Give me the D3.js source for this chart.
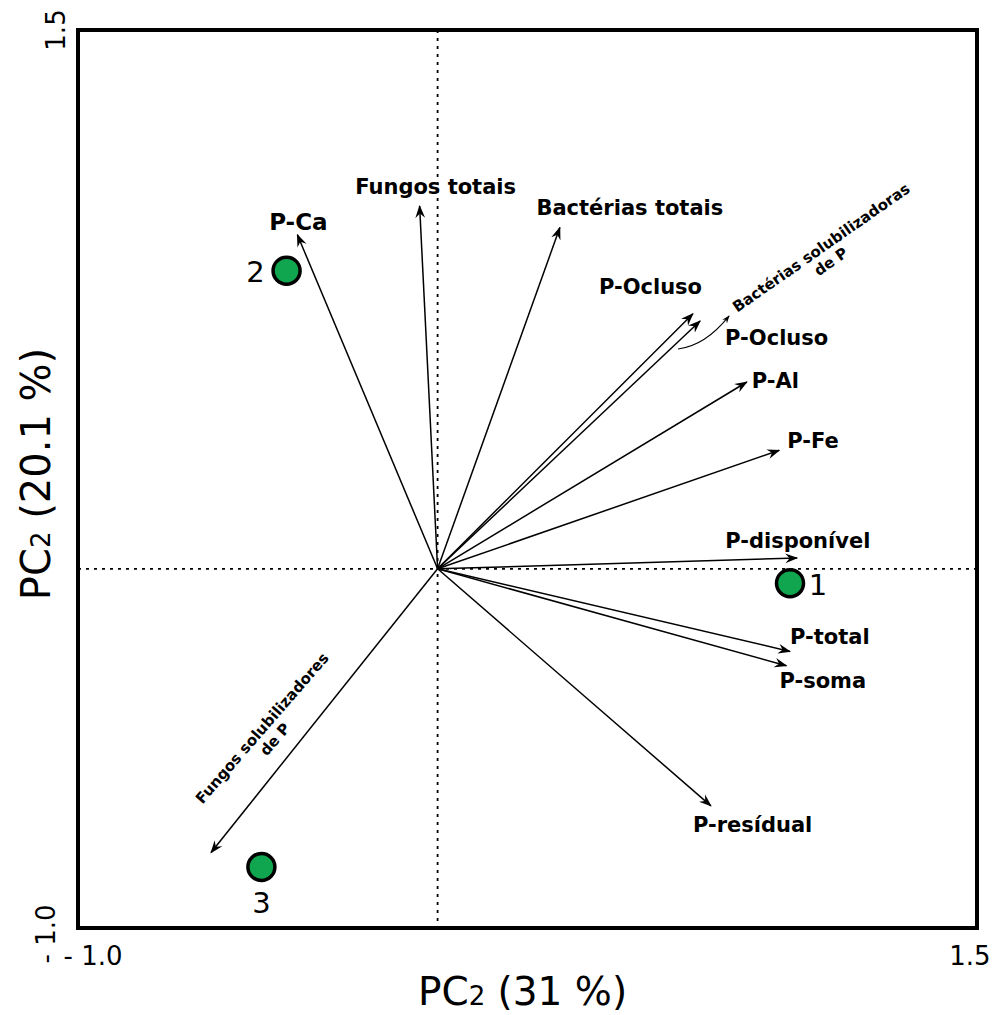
<!DOCTYPE html>
<html>
<head>
<meta charset="utf-8">
<script src="https://cdn.jsdelivr.net/npm/d3@7"></script>
<style>
  html, body { margin: 0; padding: 0; background: #fff; }
  svg { display: block; font-family: "DejaVu Sans", sans-serif; }
</style>
</head>
<body>
<div id="chart"></div>
<script>
// loadings (arrows)
const variables = ["P-Ca", "Fungos totais", "Bactérias totais", "P-Ocluso", "P-Ocluso",
  "P-Al", "P-Fe", "P-disponível", "P-total", "P-soma", "P-resídual", "Fungos solubilizadores"];
const loadX = [-0.39, -0.05, 0.34, 0.71, 0.73, 0.86, 0.95, 1.00, 0.98, 0.97, 0.76, -0.63];
const loadY = [0.93, 1.01, 0.95, 0.71, 0.69, 0.52, 0.33, 0.03, -0.23, -0.27, -0.66, -0.79];

// sample scores
const sites = ["1", "2", "3"];
const scoreX = [0.98, -0.42, -0.49];
const scoreY = [-0.04, 0.83, -0.83];

const xDomain = [-1.0, 1.5];
const yDomain = [-1.0, 1.5];

const width = 997, height = 1015;
const margin = { left: 78, right: 20, top: 30, bottom: 87 };

const svg = d3.select("#chart").append("svg")
  .attr("width", width).attr("height", height);

const x = d3.scaleLinear().domain(xDomain).range([margin.left, width - margin.right]);
const y = d3.scaleLinear().domain(yDomain).range([height - margin.bottom, margin.top]);

const defs = svg.append("defs");
function addMarker(id, w, h) {
  defs.append("marker")
    .attr("id", id)
    .attr("viewBox", "0 0 12 10")
    .attr("refX", 11).attr("refY", 5)
    .attr("markerWidth", w).attr("markerHeight", h)
    .attr("markerUnits", "userSpaceOnUse")
    .attr("orient", "auto")
    .append("path")
    .attr("d", "M0,0.5 L12,5 L0,9.5 L4,5 Z")
    .attr("fill", "#000");
}
addMarker("arrow", 13, 11);
addMarker("arrowSmall", 8, 7);

// zero lines
svg.append("line")
  .attr("x1", x(0)).attr("x2", x(0))
  .attr("y1", y(yDomain[1])).attr("y2", y(yDomain[0]))
  .attr("stroke", "#000").attr("stroke-width", 1.8)
  .attr("stroke-dasharray", "3,5");
svg.append("line")
  .attr("x1", x(xDomain[0])).attr("x2", x(xDomain[1]))
  .attr("y1", y(0)).attr("y2", y(0))
  .attr("stroke", "#000").attr("stroke-width", 1.8)
  .attr("stroke-dasharray", "3,5");

// arrows
const loads = variables.map((v, i) => ({ name: v, x: loadX[i], y: loadY[i] }));
svg.append("g").selectAll("line")
  .data(loads)
  .join("line")
  .attr("x1", x(0)).attr("y1", y(0))
  .attr("x2", d => x(d.x)).attr("y2", d => y(d.y))
  .attr("stroke", "#000").attr("stroke-width", 1.5)
  .attr("marker-end", "url(#arrow)");

// label offsets (px) from arrow tips
const labelLayout = {
  0: { dx: 1, dy: -5, anchor: "middle", size: 23 },
  1: { dx: 16, dy: -12, anchor: "middle" },
  2: { dx: 70, dy: -13, anchor: "middle" },
  3: { dx: -94, dy: -20, anchor: "start" },
  4: { dx: 25, dy: 24, anchor: "start" },
  5: { dx: 5, dy: 6, anchor: "start" },
  6: { dx: 8, dy: -2, anchor: "start" },
  7: { dx: -72, dy: -10, anchor: "start" },
  8: { dx: 0, dy: -7, anchor: "start" },
  9: { dx: -7, dy: 22, anchor: "start" },
  10: { dx: -18, dy: 26, anchor: "start" }
};

const labels = svg.append("g").attr("font-weight", "bold").attr("fill", "#000");
loads.forEach((d, i) => {
  const l = labelLayout[i];
  if (!l) return;
  labels.append("text")
    .attr("x", x(d.x) + l.dx)
    .attr("y", y(d.y) + l.dy)
    .attr("text-anchor", l.anchor)
    .attr("font-size", l.size || 21)
    .text(d.name);
});

// rotated label for Fungos solubilizadores (two lines)
const fs = loads[11];
const fsG = labels.append("g")
  .attr("transform", `translate(${x(fs.x) + 55},${y(fs.y) - 121}) rotate(-49)`)
  .attr("font-size", 15).attr("text-anchor", "middle");
fsG.append("text").attr("x", 0).attr("y", 0).text("Fungos solubilizadores");
fsG.append("text").attr("x", 0).attr("y", 17).text("de P");

// rotated label for Bactérias solubilizadoras with curved leader
const po = loads[4];
const bx = x(po.x), by = y(po.y);
svg.append("path")
  .attr("d", `M${bx - 22},${by + 28} Q${bx + 5},${by + 25} ${bx + 29},${by - 5}`)
  .attr("fill", "none").attr("stroke", "#000").attr("stroke-width", 1.1)
  .attr("marker-end", "url(#arrowSmall)");
const bsG = labels.append("g")
  .attr("transform", `translate(${bx + 124},${by - 69}) rotate(-35)`)
  .attr("font-size", 15).attr("text-anchor", "middle");
bsG.append("text").attr("x", 0).attr("y", 0).text("Bactérias solubilizadoras");
bsG.append("text").attr("x", 0).attr("y", 17).text("de P");

// sample points
const scores = sites.map((s, i) => ({ name: s, x: scoreX[i], y: scoreY[i] }));
svg.append("g").selectAll("circle")
  .data(scores)
  .join("circle")
  .attr("cx", d => x(d.x)).attr("cy", d => y(d.y))
  .attr("r", 13.5)
  .attr("fill", "#10a650")
  .attr("stroke", "#000").attr("stroke-width", 3.5);

const siteOffset = {
  "1": { dx: 28, dy: 12 },
  "2": { dx: -31, dy: 11 },
  "3": { dx: 0, dy: 46 }
};
svg.append("g").selectAll("text")
  .data(scores)
  .join("text")
  .attr("x", d => x(d.x) + siteOffset[d.name].dx)
  .attr("y", d => y(d.y) + siteOffset[d.name].dy)
  .attr("text-anchor", "middle")
  .attr("font-size", 29)
  .text(d => d.name);

// frame
svg.append("rect")
  .attr("x", x(xDomain[0])).attr("y", y(yDomain[1]))
  .attr("width", x(xDomain[1]) - x(xDomain[0]))
  .attr("height", y(yDomain[0]) - y(yDomain[1]))
  .attr("fill", "none").attr("stroke", "#000").attr("stroke-width", 4);

// tick labels
const tickFont = 26;
svg.append("text")
  .attr("transform", `translate(${x(xDomain[0]) - 13},${y(yDomain[1])}) rotate(-90)`)
  .attr("text-anchor", "middle").attr("font-size", tickFont)
  .text("1.5");
svg.append("text")
  .attr("transform", `translate(${x(xDomain[0]) - 23},${y(yDomain[0]) + 6}) rotate(-90)`)
  .attr("text-anchor", "middle").attr("font-size", tickFont)
  .text("- 1.0");
svg.append("text")
  .attr("x", x(xDomain[0]) + 15).attr("y", y(yDomain[0]) + 37)
  .attr("text-anchor", "middle").attr("font-size", tickFont)
  .text("- 1.0");
svg.append("text")
  .attr("x", x(xDomain[1]) - 7).attr("y", y(yDomain[0]) + 37)
  .attr("text-anchor", "middle").attr("font-size", tickFont)
  .text("1.5");

// axis titles
const xt = svg.append("text")
  .attr("x", x(0.25) - 5).attr("y", height - 10)
  .attr("text-anchor", "middle").attr("font-size", 39);
xt.append("tspan").text("PC");
xt.append("tspan").attr("font-size", 26).text("2");
xt.append("tspan").text(" (31 %)");

const yt = svg.append("text")
  .attr("transform", `translate(50,${y(0.25) - 5}) rotate(-90)`)
  .attr("text-anchor", "middle").attr("font-size", 40);
yt.append("tspan").text("PC");
yt.append("tspan").attr("font-size", 26).text("2");
yt.append("tspan").text(" (20.1 %)");
</script>
</body>
</html>
